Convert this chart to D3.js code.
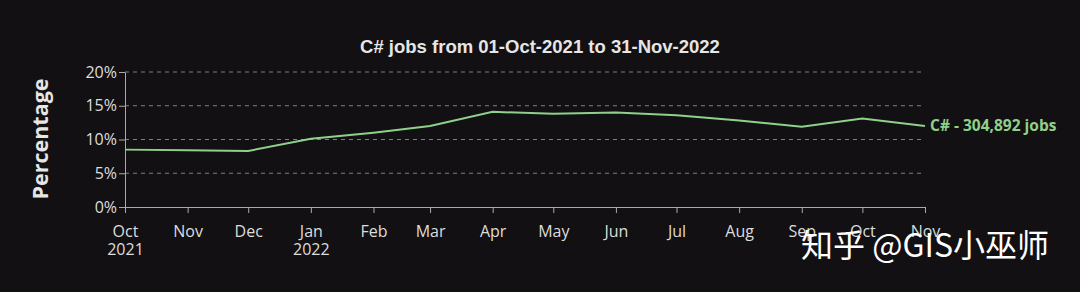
<!DOCTYPE html>
<html>
<head>
<meta charset="utf-8">
<script src="https://cdn.jsdelivr.net/npm/d3@7"></script>
<style>
  body { margin: 0; background: #121012; }
  svg { display: block; }
  .grid line { stroke: #808080; stroke-dasharray: 4 4; }
  .axis path, .axis line { stroke: #aaa; }
  .axis text { fill: #ddd; font-family: "Open Sans", "Noto Sans", sans-serif; font-size: 16px; }
</style>
</head>
<body>
<svg width="1080" height="292"></svg>
<script>
// Data
const months = ["2021-10-01", "2021-11-01", "2021-12-01", "2022-01-01", "2022-02-01", "2022-03-01", "2022-04-01",
  "2022-05-01", "2022-06-01", "2022-07-01", "2022-08-01", "2022-09-01", "2022-10-01", "2022-11-01"];
const share = [8.5, 8.4, 8.3, 10.1, 11.0, 12.0, 14.1, 13.8, 14.0, 13.6, 12.8, 11.9, 13.1, 12.0];
const yTicks = [0, 5, 10, 15, 20];
const seriesLabel = "C# - 304,892 jobs";

const parse = d3.timeParse("%Y-%m-%d");
const data = months.map((m, i) => ({ date: parse(m), value: share[i] }));

const svg = d3.select("svg");
const plotLeft = 125, plotRight = 925, plotTop = 72, plotBottom = 207;

const x = d3.scaleTime()
  .domain(d3.extent(data, d => d.date))
  .range([plotLeft, plotRight]);

const y = d3.scaleLinear()
  .domain([0, 20])
  .range([plotBottom, plotTop]);

// grid
svg.append("g")
  .attr("class", "grid")
  .selectAll("line")
  .data(yTicks.slice(1))
  .enter()
  .append("line")
  .attr("x1", plotLeft)
  .attr("x2", plotRight)
  .attr("y1", d => y(d))
  .attr("y2", d => y(d));

// y axis
svg.append("g")
  .attr("class", "axis")
  .attr("transform", `translate(${plotLeft},0)`)
  .call(d3.axisLeft(y).tickValues(yTicks).tickFormat(d => d + "%").tickSize(6).tickSizeOuter(0))
  .call(g => g.selectAll("text").attr("x", -8));

// x axis
const xAxis = svg.append("g")
  .attr("class", "axis")
  .attr("transform", `translate(0,${plotBottom})`)
  .call(d3.axisBottom(x).tickValues(data.map(d => d.date)).tickFormat("").tickSize(6).tickSizeOuter(6));

xAxis.selectAll(".tick")
  .append("text")
  .attr("y", 30)
  .attr("text-anchor", "middle")
  .each(function(d) {
    const t = d3.select(this);
    t.append("tspan").attr("x", 0).text(d3.timeFormat("%b")(d));
    if (d.getMonth() === 0 || d === data[0].date) {
      t.append("tspan").attr("x", 0).attr("dy", 18).text(d3.timeFormat("%Y")(d));
    }
  });

// line
const line = d3.line()
  .x(d => x(d.date))
  .y(d => y(d.value));

svg.append("path")
  .datum(data)
  .attr("fill", "none")
  .attr("stroke", "#8fd08a")
  .attr("stroke-width", 2)
  .attr("d", line);

const last = data[data.length - 1];
svg.append("text")
  .attr("x", x(last.date) + 5)
  .attr("y", y(last.value) + 5)
  .attr("fill", "#8fd08a")
  .attr("font-family", "Open Sans, sans-serif")
  .attr("font-weight", "bold")
  .attr("font-size", 15.5)
  .text(seriesLabel);

// title
svg.append("text")
  .attr("x", 540)
  .attr("y", 53)
  .attr("text-anchor", "middle")
  .attr("fill", "#e6e6e6")
  .attr("font-family", "Liberation Sans, Arial, sans-serif")
  .attr("font-weight", "bold")
  .attr("font-size", 18.5)
  .text("C# jobs from 01-Oct-2021 to 31-Nov-2022");

// y label
svg.append("text")
  .attr("transform", `translate(48,139) rotate(-90)`)
  .attr("text-anchor", "middle")
  .attr("fill", "#e6e6e6")
  .attr("font-family", "Open Sans, sans-serif")
  .attr("font-weight", "bold")
  .attr("font-size", 21.5)
  .text("Percentage");

// watermark
svg.append("text")
  .attr("x", 1049)
  .attr("y", 257)
  .attr("text-anchor", "end")
  .attr("fill", "#ffffff")
  .attr("font-family", "Noto Sans CJK SC, sans-serif")
  .attr("font-size", 32)
  .text("知乎 @GIS小巫师");
</script>
</body>
</html>
